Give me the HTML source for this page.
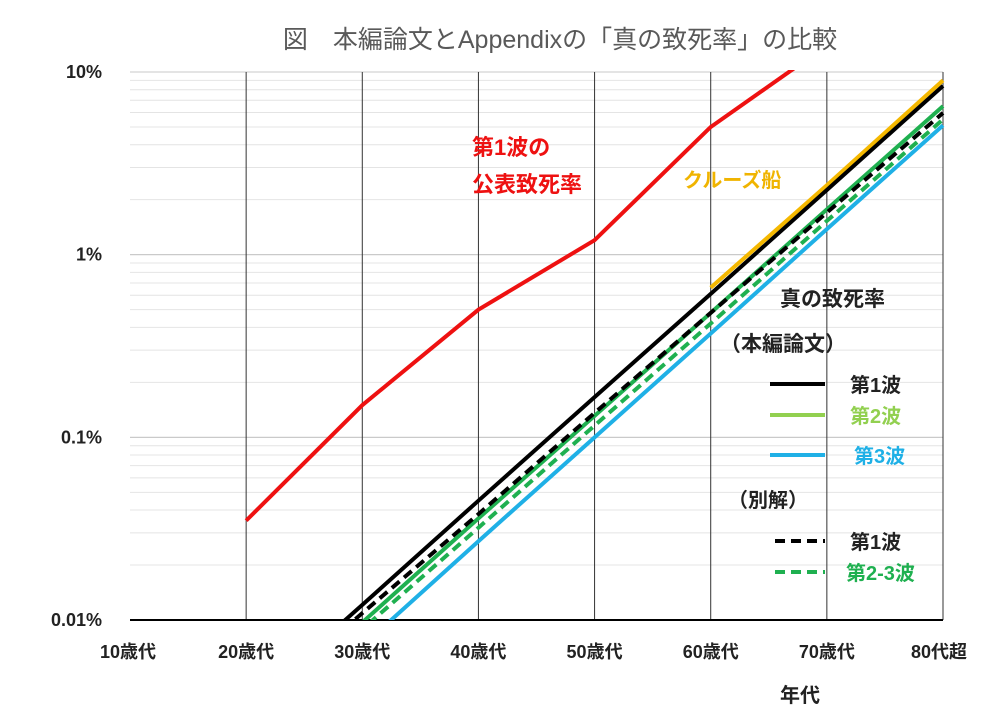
<!DOCTYPE html>
<html><head><meta charset="utf-8"><style>
html,body{margin:0;background:#fff;overflow:hidden;width:1004px;height:721px;}
svg{display:block;font-family:"Liberation Sans","Noto Sans CJK JP",sans-serif;}
</style></head><body>
<svg id="chart" width="1004" height="721">
<text x="560" y="48" text-anchor="middle" font-size="25" fill="#595959">図　本編論文とAppendixの「真の致死率」の比較</text>
<g id="grid"></g><g id="axes"></g><g id="series"></g>
<g font-weight="bold">
<text x="780" y="306" font-size="21" fill="#222">真の致死率</text>
<text x="720" y="351" font-size="21" fill="#222">（本編論文）</text>
<line x1="770" y1="384" x2="825" y2="384" stroke="#000" stroke-width="4"/>
<text x="850" y="392" font-size="20" fill="#222">第1波</text>
<line x1="770" y1="415" x2="825" y2="415" stroke="#92d050" stroke-width="4"/>
<text x="850" y="423" font-size="20" fill="#92d050">第2波</text>
<line x1="770" y1="455" x2="825" y2="455" stroke="#1fb0e6" stroke-width="4"/>
<text x="854" y="463" font-size="20" fill="#1fb0e6">第3波</text>
<text x="728" y="507" font-size="20" fill="#222">（別解）</text>
<line x1="775" y1="541" x2="825" y2="541" stroke="#000" stroke-width="4" stroke-dasharray="10,6"/>
<text x="850" y="549" font-size="20" fill="#222">第1波</text>
<line x1="775" y1="572" x2="825" y2="572" stroke="#1fb050" stroke-width="4" stroke-dasharray="10,6"/>
<text x="846" y="580" font-size="20" fill="#1fb050">第2-3波</text>
</g>
<text x="472" y="155" font-size="22" font-weight="bold" fill="#ee1111">第1波の</text>
<text x="472" y="192" font-size="22" font-weight="bold" fill="#ee1111">公表致死率</text>
<text x="683" y="187" font-size="20" font-weight="bold" fill="#f0b400">クルーズ船</text>
<text x="800" y="702" font-size="20" font-weight="bold" fill="#222" text-anchor="middle">年代</text>
</svg>
<script>
const categories=["10歳代","20歳代","30歳代","40歳代","50歳代","60歳代","70歳代","80代超"];
const yTicks=[0.01,0.1,1,10];
const yTickLabels=["0.01%","0.1%","1%","10%"];
const officialWave1=[null,0.035,0.15,0.5,1.2,5,14,null];
const cruiseShip=[null,null,null,null,null,0.66,2.4,9.0];
const trueWave1=[null,0.0033,0.0121,0.045,0.166,0.61,2.26,8.4];
const trueWave2=[null,0.0027,0.0097,0.036,0.131,0.48,1.77,6.5];
const trueWave3=[null,0.0019,0.0072,0.027,0.10,0.37,1.38,5.1];
const altWave1=[null,0.0031,0.0109,0.038,0.136,0.48,1.70,5.97];
const altWave23=[null,0.0026,0.0089,0.032,0.116,0.42,1.53,5.5];

const NS="http://www.w3.org/2000/svg";
const X0=130,X1=943,Y0=620,Y1=72;
function xs(i){return X0+i*(X1-X0)/(categories.length-1);}
function ys(v){return Y0-(Math.log10(v)-Math.log10(0.01))/3*(Y0-Y1);}
function mk(t,a,p){const e=document.createElementNS(NS,t);for(const k in a)e.setAttribute(k,a[k]);p.appendChild(e);return e;}
const svg=document.getElementById('chart');
const defs=mk('defs',{},svg);
const cp=mk('clipPath',{id:'plot'},defs);
mk('rect',{x:X0,y:Y1-2,width:X1-X0+4,height:Y0-Y1+2},cp);
const grid=document.getElementById('grid');
for(let d=0.01;d<10;d*=10){for(let m=1;m<=10;m++){const v=d*m;const y=ys(v);
const l=mk('line',{x1:X0,x2:X1,y1:y,y2:y,stroke:m===1||m===10?'#c8c8c8':'#e4e4e4','stroke-width':1},grid);

}}
for(let i=1;i<categories.length;i++){const l=mk('line',{x1:xs(i),x2:xs(i),y1:Y1,y2:Y0,stroke:'#333','stroke-width':1},grid);

}
const axes=document.getElementById('axes');
const xa=mk('line',{x1:X0,x2:X1,y1:Y0,y2:Y0,stroke:'#000','stroke-width':2},axes);


yTicks.forEach((v,i)=>{const t=mk('text',{x:102,y:ys(v)+6,'text-anchor':'end','font-size':18,'font-weight':'bold',fill:'#222'},axes);t.textContent=yTickLabels[i];

});
categories.forEach((c,i)=>{const t=mk('text',{x:i===0?xs(i)-2:(i===categories.length-1?xs(i)-4:xs(i)),y:658,'text-anchor':'middle','font-size':18,'font-weight':'bold',fill:'#222'},axes);t.textContent=c;

});
const series=document.getElementById('series');
series.setAttribute('clip-path','url(#plot)');
function line(data,color,dash,name){let d='';data.forEach((v,i)=>{if(v==null)return;d+=(d?'L':'M')+xs(i)+','+ys(v);});
const p=mk('path',{d:d,fill:'none',stroke:color,'stroke-width':4,'stroke-dasharray':dash||'none'},series);

}
line(officialWave1,'#ee1111',null,'line-official-wave1');
line(cruiseShip,'#f5b800',null,'line-cruise-ship');
line(trueWave3,'#1fb0e6',null,'line-true-wave3');
line(trueWave2,'#1fb050',null,'line-true-wave2');
line(altWave23,'#1fb050','10,6','line-alt-wave23');
line(altWave1,'#000','10,6','line-alt-wave1');
line(trueWave1,'#000',null,'line-true-wave1');
</script>
</body></html>
